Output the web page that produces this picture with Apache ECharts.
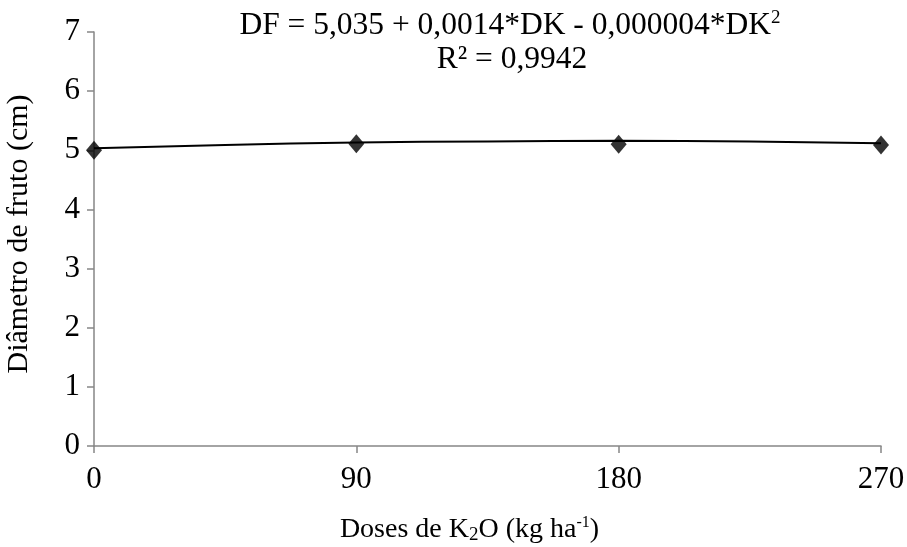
<!DOCTYPE html>
<html>
<head>
<meta charset="utf-8">
<script src="https://cdn.jsdelivr.net/npm/echarts@6/dist/echarts.min.js"></script>
<style>
  html, body { margin: 0; padding: 0; background: #fff; }
  #chart { width: 907px; height: 547px; }
</style>
</head>
<body>
<div id="chart"></div>
<script>
// K2O doses (kg/ha) and measured fruit diameter (cm)
var doses = [0, 90, 180, 270];
var diameter = [5.0, 5.11, 5.1, 5.09];

// fitted quadratic trend, sampled along the dose axis
var trendDoses = [0, 45, 90, 135, 180, 225, 270];
var trendDiameter = [5.035, 5.09, 5.13, 5.15, 5.16, 5.15, 5.12];

var xTicks = [0, 90, 180, 270];
var yTicks = [0, 1, 2, 3, 4, 5, 6, 7];

var serif = '"Liberation Serif", "DejaVu Serif", serif';
var axisGray = '#868686';

var chart = echarts.init(document.getElementById('chart'), null, { renderer: 'canvas' });

chart.setOption({
  backgroundColor: '#fff',
  animation: false,
  textStyle: { fontFamily: serif, color: '#000' },
  grid: {
    left: 94, right: 26, top: 32, bottom: 101,
    containLabel: false, outerBoundsMode: 'none'
  },
  graphic: [
    {
      type: 'text', x: 510, y: 42,
      style: {
        text: '{m|DF = 5,035 + 0,0014*DK - 0,000004*DK}{s|2}',
        align: 'center', verticalAlign: 'bottom',
        rich: {
          m: { fontFamily: serif, fontSize: 31.5, fill: '#000' },
          s: { fontFamily: serif, fontSize: 19, fill: '#000', padding: [0, 0, 14, 0] }
        }
      }
    },
    {
      type: 'text', x: 512, y: 76,
      style: {
        text: 'R² = 0,9942', align: 'center', verticalAlign: 'bottom',
        fontFamily: serif, fontSize: 31.5, fill: '#000'
      }
    }
  ],
  xAxis: {
    type: 'value',
    min: xTicks[0], max: xTicks[xTicks.length - 1], interval: 90,
    axisLine: { show: true, onZero: false, lineStyle: { color: axisGray, width: 1.5 } },
    axisTick: { show: true, length: 7, lineStyle: { color: axisGray, width: 1.5 } },
    splitLine: { show: false },
    axisLabel: { fontFamily: serif, fontSize: 31, color: '#000', margin: 18 },
    name: '{n|Doses de K}{sub|2}{n|O (kg ha}{sup|-1}{n|)}',
    nameLocation: 'middle', nameGap: 68,
    nameTextStyle: {
      padding: [0, 36, 0, 0],
      rich: {
        n: { fontFamily: serif, fontSize: 28, color: '#000' },
        sub: { fontFamily: serif, fontSize: 19, color: '#000', padding: [12, 0, 0, 0] },
        sup: { fontFamily: serif, fontSize: 16, color: '#000', padding: [0, 0, 14, 0] }
      }
    }
  },
  yAxis: {
    type: 'value',
    min: yTicks[0], max: yTicks[yTicks.length - 1], interval: 1,
    axisLine: { show: true, lineStyle: { color: axisGray, width: 1.5 } },
    axisTick: { show: true, length: 7, lineStyle: { color: axisGray, width: 1.5 } },
    splitLine: { show: false },
    axisLabel: { fontFamily: serif, fontSize: 31, color: '#000', margin: 14 },
    name: 'Diâmetro de fruto (cm)',
    nameLocation: 'middle', nameGap: 60, nameRotate: 90,
    nameTextStyle: { fontFamily: serif, fontSize: 30, color: '#000', padding: [0, 0, 0, 10] }
  },
  series: [
    {
      name: 'trend', type: 'line', smooth: true,
      data: trendDoses.map(function (d, i) { return [d, trendDiameter[i]]; }),
      showSymbol: false, symbol: 'none',
      lineStyle: { color: '#000', width: 2 },
      z: 2
    },
    {
      name: 'diameter', type: 'scatter',
      data: doses.map(function (d, i) { return [d, diameter[i]]; }),
      symbol: 'diamond', symbolSize: [16, 19],
      itemStyle: { color: '#000' },
      z: 3
    }
  ]
});
</script>
</body>
</html>
